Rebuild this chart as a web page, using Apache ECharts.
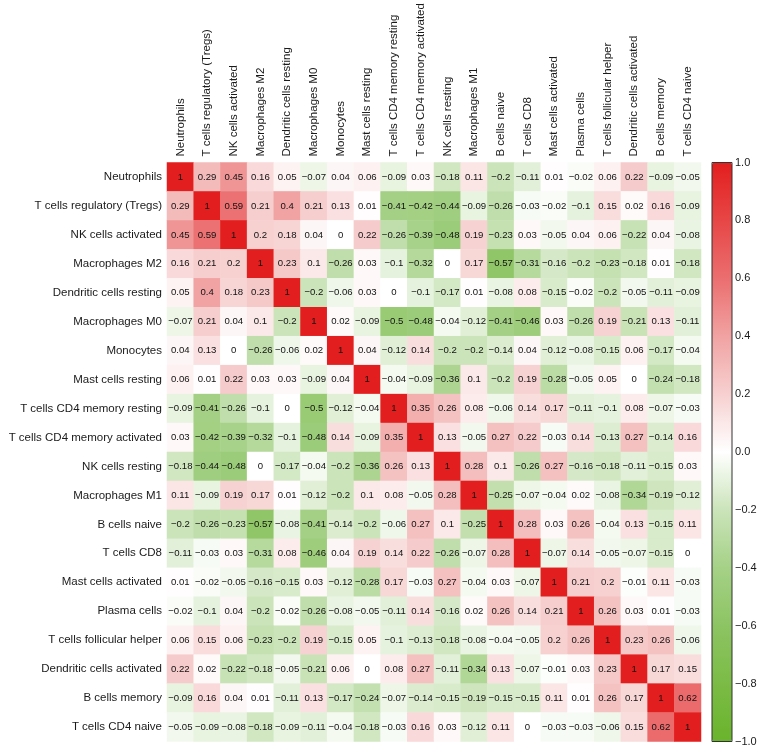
<!DOCTYPE html>
<html>
<head>
<meta charset="utf-8">
<script src="https://cdn.jsdelivr.net/npm/echarts@6/dist/echarts.min.js"></script>
<style>
html,body{margin:0;padding:0;background:#fff;}
#chart{width:760px;height:750px;}
</style>
</head>
<body>
<div id="chart"></div>
<script>
const cells = ["Neutrophils","T cells regulatory (Tregs)","NK cells activated","Macrophages M2","Dendritic cells resting","Macrophages M0","Monocytes","Mast cells resting","T cells CD4 memory resting","T cells CD4 memory activated","NK cells resting","Macrophages M1","B cells naive","T cells CD8","Mast cells activated","Plasma cells","T cells follicular helper","Dendritic cells activated","B cells memory","T cells CD4 naive"];

const corr = [
[1,0.29,0.45,0.16,0.05,-0.07,0.04,0.06,-0.09,0.03,-0.18,0.11,-0.2,-0.11,0.01,-0.02,0.06,0.22,-0.09,-0.05],
[0.29,1,0.59,0.21,0.4,0.21,0.13,0.01,-0.41,-0.42,-0.44,-0.09,-0.26,-0.03,-0.02,-0.1,0.15,0.02,0.16,-0.09],
[0.45,0.59,1,0.2,0.18,0.04,0,0.22,-0.26,-0.39,-0.48,0.19,-0.23,0.03,-0.05,0.04,0.06,-0.22,0.04,-0.08],
[0.16,0.21,0.2,1,0.23,0.1,-0.26,0.03,-0.1,-0.32,0,0.17,-0.57,-0.31,-0.16,-0.2,-0.23,-0.18,0.01,-0.18],
[0.05,0.4,0.18,0.23,1,-0.2,-0.06,0.03,0,-0.1,-0.17,0.01,-0.08,0.08,-0.15,-0.02,-0.2,-0.05,-0.11,-0.09],
[-0.07,0.21,0.04,0.1,-0.2,1,0.02,-0.09,-0.5,-0.48,-0.04,-0.12,-0.41,-0.46,0.03,-0.26,0.19,-0.21,0.13,-0.11],
[0.04,0.13,0,-0.26,-0.06,0.02,1,0.04,-0.12,0.14,-0.2,-0.2,-0.14,0.04,-0.12,-0.08,-0.15,0.06,-0.17,-0.04],
[0.06,0.01,0.22,0.03,0.03,-0.09,0.04,1,-0.04,-0.09,-0.36,0.1,-0.2,0.19,-0.28,-0.05,0.05,0,-0.24,-0.18],
[-0.09,-0.41,-0.26,-0.1,0,-0.5,-0.12,-0.04,1,0.35,0.26,0.08,-0.06,0.14,0.17,-0.11,-0.1,0.08,-0.07,-0.03],
[0.03,-0.42,-0.39,-0.32,-0.1,-0.48,0.14,-0.09,0.35,1,0.13,-0.05,0.27,0.22,-0.03,0.14,-0.13,0.27,-0.14,0.16],
[-0.18,-0.44,-0.48,0,-0.17,-0.04,-0.2,-0.36,0.26,0.13,1,0.28,0.1,-0.26,0.27,-0.16,-0.18,-0.11,-0.15,0.03],
[0.11,-0.09,0.19,0.17,0.01,-0.12,-0.2,0.1,0.08,-0.05,0.28,1,-0.25,-0.07,-0.04,0.02,-0.08,-0.34,-0.19,-0.12],
[-0.2,-0.26,-0.23,-0.57,-0.08,-0.41,-0.14,-0.2,-0.06,0.27,0.1,-0.25,1,0.28,0.03,0.26,-0.04,0.13,-0.15,0.11],
[-0.11,-0.03,0.03,-0.31,0.08,-0.46,0.04,0.19,0.14,0.22,-0.26,-0.07,0.28,1,-0.07,0.14,-0.05,-0.07,-0.15,0],
[0.01,-0.02,-0.05,-0.16,-0.15,0.03,-0.12,-0.28,0.17,-0.03,0.27,-0.04,0.03,-0.07,1,0.21,0.2,-0.01,0.11,-0.03],
[-0.02,-0.1,0.04,-0.2,-0.02,-0.26,-0.08,-0.05,-0.11,0.14,-0.16,0.02,0.26,0.14,0.21,1,0.26,0.03,0.01,-0.03],
[0.06,0.15,0.06,-0.23,-0.2,0.19,-0.15,0.05,-0.1,-0.13,-0.18,-0.08,-0.04,-0.05,0.2,0.26,1,0.23,0.26,-0.06],
[0.22,0.02,-0.22,-0.18,-0.05,-0.21,0.06,0,0.08,0.27,-0.11,-0.34,0.13,-0.07,-0.01,0.03,0.23,1,0.17,0.15],
[-0.09,0.16,0.04,0.01,-0.11,0.13,-0.17,-0.24,-0.07,-0.14,-0.15,-0.19,-0.15,-0.15,0.11,0.01,0.26,0.17,1,0.62],
[-0.05,-0.09,-0.08,-0.18,-0.09,-0.11,-0.04,-0.18,-0.03,0.16,0.03,-0.12,0.11,0,-0.03,-0.03,-0.06,0.15,0.62,1]
];

const scaleMin = -1, scaleMax = 1, scaleStep = 0.2;
const palette = ['#6AB42C','#7BBB46','#8DC463','#A5D187','#CBE4BA','#FFFFFF','#F7D0D0','#F1A2A2','#EB6E6F','#E74646','#E31E1E'];

const heatData = [];
corr.forEach((row, r) => row.forEach((v, c) => heatData.push([c, r, v])));

const minus = s => String(s).replace('-', '\u2212');
const font = 'Liberation Sans, Arial, Helvetica, sans-serif';

const chart = echarts.init(document.getElementById('chart'), null, {renderer: 'canvas'});
chart.setOption({
  animation: false,
  backgroundColor: '#fff',
  textStyle: {fontFamily: font},
  grid: [
    {left: 167, top: 162.5, width: 534, height: 579},
    {left: 712, top: 162.5, width: 20, height: 579, show: true, z: 10,
     backgroundColor: 'transparent', borderColor: '#333', borderWidth: 1}
  ],
  xAxis: [
    {type: 'category', data: cells, position: 'top', gridIndex: 0,
     axisLine: {show: false}, axisTick: {show: false}, splitLine: {show: false},
     axisLabel: {rotate: -90, interval: 0, fontSize: 11.5, color: '#1a1a1a', margin: 6, fontFamily: font}},
    {type: 'value', gridIndex: 1, show: false, min: 0, max: 1}
  ],
  yAxis: [
    {type: 'category', data: cells, inverse: true, gridIndex: 0,
     axisLine: {show: false}, axisTick: {show: false}, splitLine: {show: false},
     axisLabel: {interval: 0, fontSize: 11.5, color: '#1a1a1a', margin: 5, fontFamily: font}},
    {type: 'value', gridIndex: 1, position: 'right', min: scaleMin, max: scaleMax, interval: scaleStep,
     axisLine: {show: false}, splitLine: {show: false},
     axisTick: {show: true, length: 4, lineStyle: {color: '#333'}},
     axisLabel: {fontSize: 11, color: '#1a1a1a', margin: 3, fontFamily: font,
       formatter: v => minus(v.toFixed(1))}}
  ],
  visualMap: {
    type: 'continuous', min: scaleMin, max: scaleMax, show: true, calculable: false,
    left: 712, top: 162.5, itemWidth: 20, itemHeight: 579, padding: 0,
    text: null, showLabel: false, hoverLink: false, seriesIndex: 0,
    inRange: {color: palette}
  },
  series: [{
    type: 'heatmap', xAxisIndex: 0, yAxisIndex: 0, data: heatData,
    itemStyle: {borderWidth: 0},
    label: {show: true, fontSize: 9.6, color: '#111', fontFamily: font,
      formatter: p => minus(p.value[2])},
    emphasis: {disabled: true}
  }]
});
</script>
</body>
</html>
